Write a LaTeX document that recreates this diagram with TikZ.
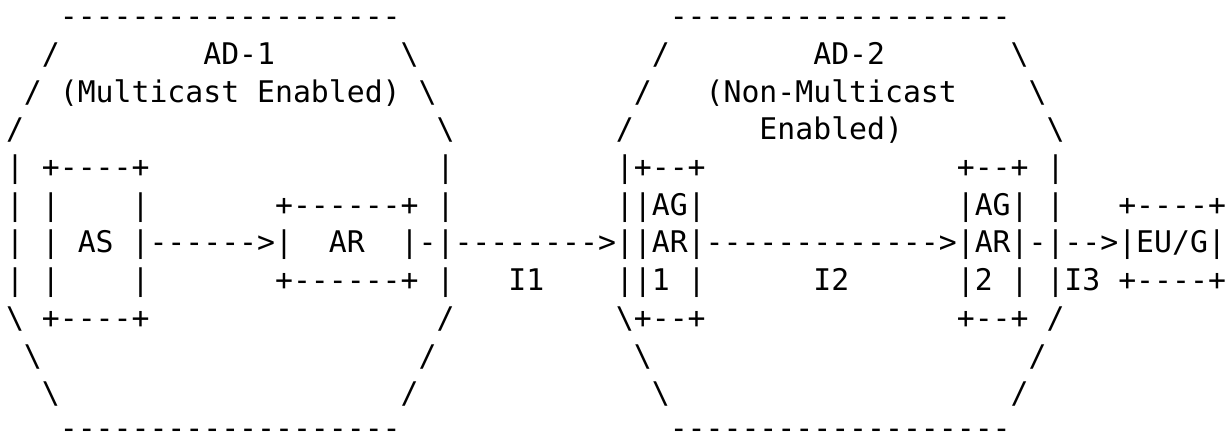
\documentclass[tikz,border=0pt]{standalone}
\usepackage{fontspec}
\setmonofont{DejaVu Sans Mono}
\newcommand\asciitok[4]{\node[tok] (#1) at ({6+#3*17.94},{26.7+#2*37.7}) {#4};}
\newcommand\lowdash[1]{\raisebox{0pt}[\height][-3.6pt]{#1}}
\begin{document}
\begin{tikzpicture}[x=0.5pt,y=-0.5pt,
  tok/.style={anchor=base west, inner sep=0pt, outer sep=0pt,
    font=\ttfamily\fontsize{14.9pt}{18pt}\selectfont, text=black}]
\fill[white] (0,0) rectangle (1229,435);
\useasboundingbox (0,0) rectangle (1229,435);
% row 0
\asciitok{ta}{0}{3}{-------------------}
\asciitok{tb}{0}{37}{-------------------}
% row 1
\asciitok{ra1}{1}{2}{/}
\asciitok{ad1}{1}{11}{AD-1}
\asciitok{rb1}{1}{22}{\textbackslash}
\asciitok{rc1}{1}{36}{/}
\asciitok{ad2}{1}{45}{AD-2}
\asciitok{rd1}{1}{56}{\textbackslash}
% row 2
\asciitok{ra2}{2}{1}{/}
\asciitok{me}{2}{3}{(Multicast Enabled)}
\asciitok{rb2}{2}{23}{\textbackslash}
\asciitok{rc2}{2}{35}{/}
\asciitok{nm}{2}{39}{(Non-Multicast}
\asciitok{rd2}{2}{57}{\textbackslash}
% row 3
\asciitok{ra3}{3}{0}{/}
\asciitok{rb3}{3}{24}{\textbackslash}
\asciitok{rc3}{3}{34}{/}
\asciitok{en}{3}{42}{Enabled)}
\asciitok{rd3}{3}{58}{\textbackslash}
% row 4
\asciitok{ra4}{4}{0}{|}
\asciitok{ast}{4}{2}{+----+}
\asciitok{rb4}{4}{24}{|}
\asciitok{agat}{4}{34}{|+--+}
\asciitok{agbt}{4}{53}{+--+}
\asciitok{rd4}{4}{58}{|}
% row 5
\asciitok{ra5}{5}{0}{|}
\asciitok{asl5}{5}{2}{|}
\asciitok{asr5}{5}{7}{|}
\asciitok{art}{5}{15}{+------+}
\asciitok{rb5}{5}{24}{|}
\asciitok{aga}{5}{34}{||AG|}
\asciitok{agb}{5}{53}{|AG|}
\asciitok{rd5}{5}{58}{|}
\asciitok{eut}{5}{62}{+----+}
% row 6
\asciitok{ra6}{6}{0}{|}
\asciitok{asl6}{6}{2}{|}
\asciitok{as}{6}{4}{AS}
\asciitok{asar}{6}{7}{|------>|}
\asciitok{ar}{6}{18}{AR}
\asciitok{chain}{6}{22}{|-|-------->||AR|------------->|AR|-|-->|EU/G|}
% row 7
\asciitok{ra7}{7}{0}{|}
\asciitok{asl7}{7}{2}{|}
\asciitok{asr7}{7}{7}{|}
\asciitok{arb}{7}{15}{+------+}
\asciitok{rb7}{7}{24}{|}
\asciitok{ia}{7}{28}{I1}
\asciitok{aga1}{7}{34}{||1}
\asciitok{agar7}{7}{38}{|}
\asciitok{ib}{7}{45}{I2}
\asciitok{agb2}{7}{53}{|2}
\asciitok{agbr7}{7}{56}{|}
\asciitok{ic}{7}{58}{|I3}
\asciitok{eub}{7}{62}{+----+}
% row 8
\asciitok{ra8}{8}{0}{\textbackslash}
\asciitok{asb}{8}{2}{+----+}
\asciitok{rb8}{8}{24}{/}
\asciitok{agab}{8}{34}{\textbackslash+--+}
\asciitok{agbb}{8}{53}{+--+}
\asciitok{rd8}{8}{58}{/}
% row 9
\asciitok{ra9}{9}{1}{\textbackslash}
\asciitok{rb9}{9}{23}{/}
\asciitok{rc9}{9}{35}{\textbackslash}
\asciitok{rd9}{9}{57}{/}
% row 10
\asciitok{ra10}{10}{2}{\textbackslash}
\asciitok{rb10}{10}{22}{/}
\asciitok{rc10}{10}{36}{\textbackslash}
\asciitok{rd10}{10}{56}{/}
% row 11 (raised a little so the dashes stay inside the page)
\asciitok{ba}{10.93}{3}{\lowdash{-------------------}}
\asciitok{bb}{10.93}{37}{\lowdash{-------------------}}
\end{tikzpicture}
\end{document}
